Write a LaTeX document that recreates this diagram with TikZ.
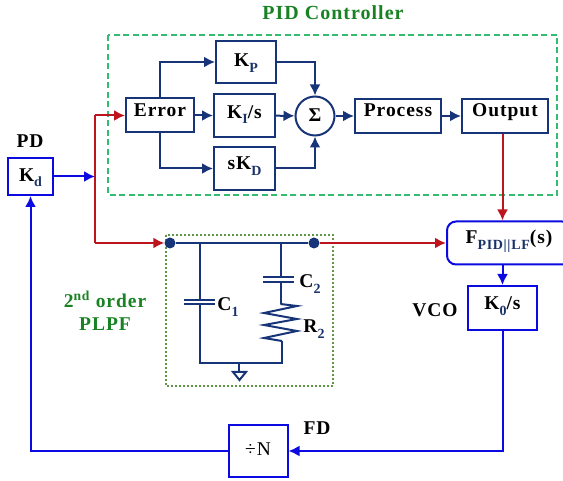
\documentclass[tikz,border=0pt]{standalone}
\usepackage{fontspec}
\setmainfont[LetterSpace=5]{Liberation Serif}
\usetikzlibrary{arrows.meta}
\definecolor{navywire}{RGB}{24,52,120}
\definecolor{bluewire}{RGB}{10,10,225}
\definecolor{redwire}{RGB}{190,20,30}
\definecolor{dashgreen}{RGB}{50,190,110}
\definecolor{dotgreen}{RGB}{95,150,70}
\definecolor{titlegreen}{RGB}{25,130,35}
\definecolor{subnavy}{RGB}{25,50,105}
\newcommand{\subtxt}[1]{\raisebox{-.28em}{\fontsize{14}{14}\selectfont\textcolor{subnavy}{#1}}}
\tikzset{
  txt/.style = {font=\fontsize{19.5}{23}\selectfont\bfseries, inner sep=0pt},
  lab/.style = {txt, anchor=base},
  bl/.style = {text height=14pt, text depth={14pt-2*#1}},
  navybox/.style = {txt, draw=navywire, line width=2pt, fill=white, anchor=center},
  bluebox/.style = {txt, draw=bluewire, line width=2pt, fill=white, anchor=center},
  navyline/.style = {draw=navywire, line width=2pt},
  blueline/.style = {draw=bluewire, line width=2pt},
  redline/.style = {draw=redwire, line width=2pt},
  terminal/.style = {circle, fill=navywire, minimum size=11pt, inner sep=0pt},
}
\begin{document}
\begin{tikzpicture}[x=1pt, y=-1pt, >={Latex[length=11pt,width=11pt]}]
  \useasboundingbox (0, 0) rectangle (563, 481);

  %%PID controller
  \draw[dashgreen, line width=2pt, dash pattern=on 6pt off 3.5pt](108, 35) rectangle (557, 195);
  \node[lab, text=titlegreen, font=\fontsize{20}{23}\selectfont\bfseries](pidtitle) at (333, 20) {PID Controller};

  \node[navybox, bl=1, minimum width=68pt, minimum height=34pt](err) at (160, 115.5) {Error};
  \node[navybox, bl=4.7, minimum width=60pt, minimum height=42pt](kp) at (246, 62) {K\subtxt{P}};
  \node[navybox, bl=3, minimum width=61pt, minimum height=43pt](ki) at (244.5, 115.5) {K\subtxt{I}/s};
  \node[navybox, bl=1.5, minimum width=61pt, minimum height=43pt](kd) at (244.5, 168.5) {sK\subtxt{D}};
  \node[navybox, circle, bl=6, minimum size=39pt](sum) at (315, 116) {Σ};
  \node[navybox, bl=.7, minimum width=86pt, minimum height=34pt](proc) at (398, 116) {Process};
  \node[navybox, bl=1, minimum width=86pt, minimum height=34pt](out) at (505, 116) {Output};

    \draw[navyline, ->](err.north) |- (kp.west);
    \draw[navyline, ->](err) to (ki);
    \draw[navyline, ->](err.south) |- (kd.west);
    \draw[navyline, ->](kp.east) -| (sum.north);
    \draw[navyline, ->](ki) to (sum);
    \draw[navyline, ->](kd.east) -| (sum.south);
    \draw[navyline, ->](sum) to (proc);
    \draw[navyline, ->](proc) to (out);

  %%loop filter
  \draw[dotgreen, line width=2pt, dotted](166, 235) rectangle (333, 386);
  \node[terminal](nin) at (170, 243) {};
  \node[terminal](nout) at (314, 243) {};
  \node[txt, text=titlegreen, align=center](plpf) at (105, 311) {2\textsuperscript{nd} order\\PLPF};

  \coordinate(jc1) at (199.5, 243);
  \coordinate(jc2) at (280.5, 243);
  \coordinate(c1top) at (199.5, 300);
  \coordinate(c1bot) at (199.5, 304);
  \coordinate(c2top) at (280.5, 277);
  \coordinate(c2bot) at (280.5, 282);
  \coordinate(restop) at (280.5, 304);
  \coordinate(resbot) at (282, 341);
  \coordinate(gl) at (199.5, 363);
  \coordinate(gr) at (282, 363);
  \coordinate(gnd) at (239, 363);

    \draw[navyline](nin) to (nout);
    \draw[navyline](jc1) to (c1top);
    \draw[navyline](184, 300) to (215, 300);
    \draw[navyline](184, 304) to (215, 304);
    \draw[navyline](c1bot) to (gl) to (gr) to (resbot);
    \draw[navyline](jc2) to (c2top);
    \draw[navyline](263, 277) to (294, 277);
    \draw[navyline](263, 282) to (294, 282);
    \draw[navyline](c2bot) to (restop);
    \draw[navyline](restop) -- (297, 306) -- (264, 313) -- (297, 319) -- (264, 325) -- (297, 331) -- (264, 338) -- (resbot);
    \draw[navyline](gnd) to (239, 372);
    \draw[navyline](233, 372) -- (246, 372) -- (239.5, 380) -- cycle;

  \node[lab](c1lab) at (228, 311) {C\subtxt{1}};
  \node[lab](c2lab) at (310, 288) {C\subtxt{2}};
  \node[lab](r2lab) at (314, 333) {R\subtxt{2}};

  %%outer loop
  \node[bluebox, bl=5, minimum width=45pt, minimum height=37pt](pd) at (30.5, 176.5) {K\subtxt{d}};
  \node[lab](pdlab) at (30, 148) {PD};
  \node[bluebox, bl=1, rounded corners=9pt, minimum width=124pt, minimum height=43pt](ff) at (509, 243)
    {F\subtxt{PID||LF}(s)};
  \node[bluebox, bl=2, minimum width=69pt, minimum height=44pt](vco) at (502.5, 308) {K\subtxt{0}/s};
  \node[lab](vcolab) at (435, 317) {VCO};
  \node[bluebox, bl=4, font=\fontsize{19.5}{23}\selectfont, minimum width=59pt, minimum height=51pt](fd) at (258, 451) {÷N};
  \node[lab](fdlab) at (317, 435) {FD};

  \coordinate(redtop) at (95, 115.5);
  \coordinate(redmid) at (95, 176.5);
  \coordinate(redbot) at (95, 243);

    \draw[redline](redbot) to (redtop);
    \draw[redline, ->](redtop) to (err);
    \draw[redline, ->](redbot) to (nin);
    \draw[redline, ->](nout) to (nout -| ff.west);
    \draw[redline, ->](vco |- out.south) to (vco |- ff.north);
    \draw[blueline, ->](pd) to (redmid);
    \draw[blueline, ->](vco |- ff.south) to (vco);
    \draw[blueline, ->](vco.south) |- (fd.east);
    \draw[blueline, ->](fd.west) -| (pd.south);
\end{tikzpicture}
\end{document}
